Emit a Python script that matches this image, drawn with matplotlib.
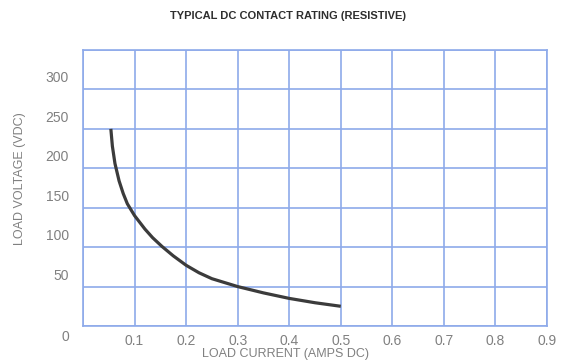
import matplotlib

matplotlib.use("Agg")
import matplotlib.pyplot as plt
import matplotlib.transforms as mtransforms

# Typical DC contact rating curve (resistive load)
load_current = [0.054, 0.057, 0.062, 0.070, 0.078, 0.086, 0.100, 0.120, 0.135,
                0.153, 0.175, 0.200, 0.225, 0.250, 0.300, 0.350, 0.400, 0.450, 0.500]
load_voltage = [250, 228, 206, 184, 168, 155, 140, 123, 112,
                101, 89, 77, 67.5, 60, 50, 42, 35, 29.5, 25]

x_ticks = [0.1, 0.2, 0.3, 0.4, 0.5, 0.6, 0.7, 0.8, 0.9]
x_tick_labels = ["0.1", "0.2", "0.3", "0.4", "0.5", "0.6", "0.7", "0.8", "0.9"]
y_ticks = [0, 50, 100, 150, 200, 250, 300]
y_tick_labels = ["0", "50", "100", "150", "200", "250", "300"]

GRID_BLUE = "#8eaaea"
TEXT_GRAY = "#808080"
FONT = ["Liberation Sans", "DejaVu Sans"]

fig = plt.figure(figsize=(5.68, 3.64), dpi=100)
ax = fig.add_axes([83 / 568, 38 / 364, 464 / 568, 276 / 364])

ax.plot(load_current, load_voltage, color="#3b3b3b", linewidth=2.3,
        solid_capstyle="butt", solid_joinstyle="round", zorder=3)

ax.set_xlim(0, 0.9)
ax.set_ylim(0, 350)
ax.set_xticks([0.0] + x_ticks)
ax.set_xticklabels([""] + x_tick_labels)
ax.set_yticks(y_ticks + [350])
ax.set_yticklabels(y_tick_labels + [""])

ax.grid(True, color=GRID_BLUE, linewidth=1.2)
for s in ax.spines.values():
    s.set_color(GRID_BLUE)
    s.set_linewidth(1.2)

ax.tick_params(length=0, colors=TEXT_GRAY, labelsize=10)
ax.tick_params(axis="x", pad=6)
ax.tick_params(axis="y", pad=10)
for lbl in ax.get_xticklabels() + ax.get_yticklabels():
    lbl.set_family(FONT)

# numbers on the y axis sit a little above their grid line, except the zero
for lbl in ax.get_yticklabels():
    dy = -7 / 72 if lbl.get_text() == "0" else 9 / 72
    lbl.set_transform(lbl.get_transform() +
                      mtransforms.ScaledTranslation(0, dy, fig.dpi_scale_trans))

fig.text(288 / 568, 1 - 16 / 364, "TYPICAL DC CONTACT RATING (RESISTIVE)",
         ha="center", va="center", fontsize=8, fontweight="bold",
         family=["Liberation Sans Narrow", "Liberation Sans", "DejaVu Sans"],
         color="#2e2e2e")
fig.text(285 / 568, 1 - 354 / 364, "LOAD CURRENT (AMPS DC)",
         ha="center", va="center", fontsize=9, family=FONT, color=TEXT_GRAY)
fig.text(20 / 568, 1 - 179 / 364, "LOAD VOLTAGE (VDC)", rotation=90,
         ha="center", va="center", fontsize=9, family=FONT, color=TEXT_GRAY)

fig.savefig("out.png", dpi=100)
